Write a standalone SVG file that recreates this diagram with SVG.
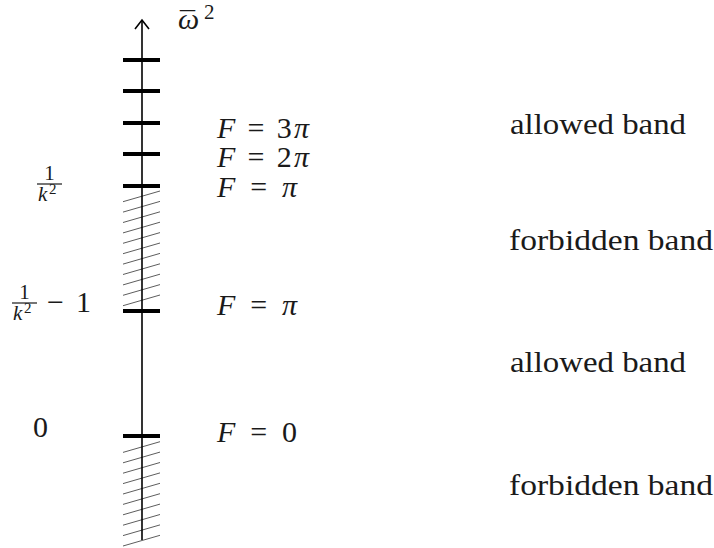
<svg xmlns="http://www.w3.org/2000/svg" width="714" height="548" viewBox="0 0 714 548">
<style>
text{font-family:"Liberation Serif",serif;fill:#1a1a1a}
.m{font-size:30px}
.s{font-size:21px}
.sup{font-size:15px}
.i{font-style:italic}
.tick{stroke:#000;stroke-width:4}
.hatch{stroke:#333;stroke-width:0.8}
.axis{stroke:#000;stroke-width:1.6;fill:none}
.bar{stroke:#1a1a1a;stroke-width:1.2}
</style>
<rect width="714" height="548" fill="#fff"/>
<g id="hatching">
<path class="hatch" d="M123,201.7L160,191M123,212.1L160,201.4M123,222.5L160,211.8M123,232.9L160,222.2M123,243.3L160,232.6M123,253.7L160,243M123,264.1L160,253.4M123,274.5L160,263.8M123,284.9L160,274.2M123,295.3L160,284.6M123,305.7L160,295"/>
<path class="hatch" d="M123,452.4L160,441.7M123,462.8L160,452.1M123,473.2L160,462.5M123,483.6L160,472.9M123,494L160,483.3M123,504.4L160,493.7M123,514.8L160,504.1M123,525.2L160,514.5M123,535.6L160,524.9M123,546L160,535.3"/>
</g>
<g id="axis">
<line class="axis" x1="142" y1="540" x2="142" y2="20"/>
<path class="axis" d="M135,29L142,20L149,29"/>
<text class="m i" x="178" y="29">ω</text>
<text class="m" x="180" y="32">¯</text>
<text class="s" x="204" y="19">2</text>
</g>
<g id="ticks">
<line class="tick" x1="123" y1="60" x2="160" y2="60"/>
<line class="tick" x1="123" y1="91" x2="160" y2="91"/>
<line class="tick" x1="123" y1="123" x2="160" y2="123"/>
<line class="tick" x1="123" y1="154" x2="160" y2="154"/>
<line class="tick" x1="123" y1="186" x2="160" y2="186"/>
<line class="tick" x1="123" y1="311" x2="160" y2="311"/>
<line class="tick" x1="123" y1="436" x2="160" y2="436"/>
</g>
<g id="F-labels">
<text class="m" x="217" y="138" textLength="92" lengthAdjust="spacing"><tspan class="i">F</tspan> = 3<tspan class="i">π</tspan></text>
<text class="m" x="217" y="167" textLength="92" lengthAdjust="spacing"><tspan class="i">F</tspan> = 2<tspan class="i">π</tspan></text>
<text class="m" x="217" y="197" textLength="80" lengthAdjust="spacing"><tspan class="i">F</tspan> = <tspan class="i">π</tspan></text>
<text class="m" x="217" y="315" textLength="80" lengthAdjust="spacing"><tspan class="i">F</tspan> = <tspan class="i">π</tspan></text>
<text class="m" x="217" y="442" textLength="80" lengthAdjust="spacing"><tspan class="i">F</tspan> = 0</text>
</g>
<g id="value-labels">
<text class="s" x="49.5" y="180" text-anchor="middle">1</text>
<line class="bar" x1="37" y1="184" x2="62" y2="184"/>
<text class="s i" x="38" y="201">k</text>
<text class="sup" x="49" y="194">2</text>
<text class="s" x="24.5" y="299" text-anchor="middle">1</text>
<line class="bar" x1="12" y1="303" x2="37" y2="303"/>
<text class="s i" x="13" y="320">k</text>
<text class="sup" x="24" y="313">2</text>
<text class="m" x="47" y="312" textLength="44" lengthAdjust="spacing">− 1</text>
<text class="m" x="33" y="437">0</text>
</g>
<g id="band-labels">
<text class="m" x="510" y="134" textLength="176" lengthAdjust="spacingAndGlyphs">allowed band</text>
<text class="m" x="509" y="250" textLength="204" lengthAdjust="spacingAndGlyphs">forbidden band</text>
<text class="m" x="510" y="372" textLength="176" lengthAdjust="spacingAndGlyphs">allowed band</text>
<text class="m" x="509" y="495" textLength="204" lengthAdjust="spacingAndGlyphs">forbidden band</text>
</g>
</svg>
